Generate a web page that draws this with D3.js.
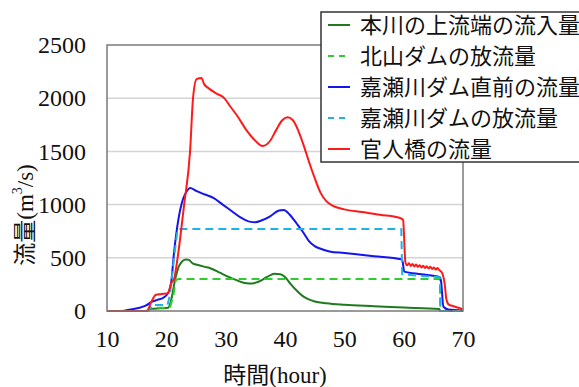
<!DOCTYPE html>
<html>
<head>
<meta charset="utf-8">
<script src="https://cdn.jsdelivr.net/npm/d3@7"></script>
<style>
  html, body { margin: 0; padding: 0; background: #fff; }
  svg text { font-family: "Liberation Serif", "Noto Sans CJK JP", serif; fill: #111; }
</style>
</head>
<body>
<div id="chart"></div>
<script>
// hours / flow (m3/s) per series
const greenHours = [10, 16.5, 17.5, 19, 20.3, 20.8, 21.5, 22.2, 23.3, 23.8, 24.5, 25.5, 26.5, 27.5, 29, 30.5, 32, 33.5, 34.5, 35.5, 37, 38.2, 39.2, 40, 41, 42, 43, 44, 45, 47, 50, 55, 60, 66, 66.2, 70];
const greenFlow  = [0, 0, 20, 25, 30, 100, 300, 430, 485, 480, 445, 430, 415, 400, 360, 320, 285, 260, 258, 275, 320, 350, 345, 320, 250, 190, 140, 110, 90, 72, 58, 45, 33, 18, 0, 0];

const kitayamaHours = [10, 17, 17.3, 20.6, 21.2, 21.6, 22, 66.1, 66.2, 70];
const kitayamaFlow  = [0, 0, 30, 30, 150, 290, 300, 300, 0, 0];

const blueHours = [10, 12.5, 14, 15.5, 16.5, 17.5, 18.5, 19.5, 20.3, 20.8, 21.3, 22, 22.8, 23.5, 24, 25, 26, 27, 28, 29.5, 31, 32.5, 34, 35, 36, 37.5, 39, 39.8, 40.8, 42, 43, 44, 45, 46, 47.5, 50, 55, 59.6, 59.8, 60.1, 63, 66.1, 66.3, 66.7, 67.5, 70];
const blueFlow  = [0, 0, 15, 30, 50, 85, 105, 125, 170, 260, 550, 850, 1050, 1130, 1155, 1130, 1105, 1085, 1060, 1000, 940, 880, 840, 835, 850, 890, 945, 950, 905, 820, 745, 660, 610, 585, 560, 545, 515, 486, 470, 370, 345, 317, 280, 40, 15, 5];

const kaseHours = [10, 17, 17.4, 20.2, 20.6, 21.3, 21.9, 59.6, 59.75, 66.1, 66.2, 70];
const kaseFlow  = [0, 0, 56, 56, 150, 500, 770, 770, 345, 317, 0, 0];

const redHours = [10, 16.7, 17.5, 18.2, 19, 20.3, 20.8, 21.3, 21.9, 23, 24, 24.5, 25.1, 25.9, 26.4, 27.2, 28.4, 29.8, 30.6, 32, 33.5, 35, 36.2, 37.5, 38.5, 39.5, 40.4, 41.3, 42.2, 43, 44, 45, 46, 47, 48, 50, 53, 56, 59.6, 59.9, 60.3,
  60.6, 60.9, 61.2, 61.5, 61.8, 62.1, 62.4, 62.7, 63, 63.3, 63.6, 63.9, 64.2, 64.5, 64.8, 65.1, 65.4, 65.7, 66, 66.3, 66.6, 66.9, 67.2, 67.6, 68.4, 70];
const redFlow  = [0, 0, 90, 150, 158, 166, 260, 300, 500, 1000, 1500, 2000, 2180, 2190, 2130, 2090, 2046, 1999, 1936, 1830, 1700, 1600, 1550, 1600, 1700, 1790, 1820, 1795, 1700, 1580, 1410, 1250, 1110, 1030, 990, 955, 930, 905, 870, 855, 455,
  430, 448, 424, 441, 419, 436, 414, 431, 409, 426, 404, 421, 399, 416, 394, 410, 389, 404, 384, 372, 340, 260, 110, 60, 45, 16];

const xTicks = [10, 20, 30, 40, 50, 60, 70];
const yTicks = [0, 500, 1000, 1500, 2000, 2500];

const series = [
  { name: "本川の上流端の流入量", hours: greenHours, flow: greenFlow, color: "#1f7a1f", dash: null, smooth: true },
  { name: "北山ダムの放流量", hours: kitayamaHours, flow: kitayamaFlow, color: "#2ecc2e", dash: "8,5", smooth: false },
  { name: "嘉瀬川ダム直前の流量", hours: blueHours, flow: blueFlow, color: "#1414ee", dash: null, smooth: true },
  { name: "嘉瀬川ダムの放流量", hours: kaseHours, flow: kaseFlow, color: "#1fb0e6", dash: "8,5", smooth: false },
  { name: "官人橋の流量", hours: redHours, flow: redFlow, color: "#ff1a1a", dash: null, smooth: true }
];

const width = 579, height = 387;
const margin = { top: 45, right: 116, bottom: 76, left: 107 };
const innerW = width - margin.left - margin.right;
const innerH = height - margin.top - margin.bottom;

const svg = d3.select("#chart").append("svg")
  .attr("width", width)
  .attr("height", height);

const g = svg.append("g").attr("transform", `translate(${margin.left},${margin.top})`);

const x = d3.scaleLinear().domain([10, 70]).range([0, innerW]);
const y = d3.scaleLinear().domain([0, 2500]).range([innerH, 0]);

// grid
g.selectAll(".grid")
  .data(yTicks.filter(v => v > 0 && v < 2500))
  .enter()
  .append("line")
  .attr("x1", 0).attr("x2", innerW)
  .attr("y1", d => y(d)).attr("y2", d => y(d))
  .attr("stroke", "#d4d4d4")
  .attr("stroke-width", 1.5);

// axes, labels only
const yAxis = g.append("g")
  .call(d3.axisLeft(y).tickValues(yTicks).tickFormat(d3.format("d")).tickSize(0).tickPadding(21));
const xAxis = g.append("g")
  .attr("transform", `translate(0,${innerH})`)
  .call(d3.axisBottom(x).tickValues(xTicks).tickFormat(d3.format("d")).tickSize(0).tickPadding(19));
[yAxis, xAxis].forEach(a => {
  a.attr("font-family", "Liberation Serif").attr("font-size", 24);
  a.select(".domain").remove();
  a.selectAll("text")
    .style("font-family", "Liberation Serif")
    .style("font-size", "24px")
    .attr("fill", "#111");
});

// lines
for (const s of series) {
  const pts = s.hours.map((h, i) => [h, s.flow[i]]);
  const line = d3.line()
    .x(d => x(d[0]))
    .y(d => y(d[1]))
    .curve(s.smooth ? d3.curveMonotoneX : d3.curveLinear);
  g.append("path")
    .datum(pts)
    .attr("fill", "none")
    .attr("stroke", s.color)
    .attr("stroke-width", 2)
    .attr("stroke-dasharray", s.dash)
    .attr("stroke-linejoin", "round")
    .attr("d", line);
}

// frame
g.append("rect")
  .attr("width", innerW).attr("height", innerH)
  .attr("fill", "none")
  .attr("stroke", "#7a7a7a")
  .attr("stroke-width", 1.5);

// axis titles
svg.append("text")
  .attr("x", margin.left + innerW / 2 - 10)
  .attr("y", 375)
  .attr("text-anchor", "middle")
  .attr("dominant-baseline", "central")
  .style("font-size", "23px")
  .text("時間(hour)");

const yt = svg.append("text")
  .attr("transform", "translate(25,215) rotate(-90)")
  .attr("text-anchor", "middle")
  .attr("dominant-baseline", "central")
  .style("font-size", "23px");
yt.append("tspan").text("流量(m");
yt.append("tspan").attr("dy", -8).style("font-size", "14px").text("3");
yt.append("tspan").attr("dy", 8).text("/s)");

// legend
const lg = svg.append("g");
lg.append("rect")
  .attr("x", 321).attr("y", 12)
  .attr("width", 300).attr("height", 150)
  .attr("fill", "#fff")
  .attr("stroke", "#333")
  .attr("stroke-width", 1.5);

series.forEach((s, i) => {
  const cy = 25 + i * 31;
  lg.append("line")
    .attr("x1", 328).attr("x2", 350)
    .attr("y1", cy).attr("y2", cy)
    .attr("stroke", s.color)
    .attr("stroke-width", 2)
    .attr("stroke-dasharray", s.dash ? "6,5" : null);
  lg.append("text")
    .attr("x", 360).attr("y", cy)
    .attr("dominant-baseline", "central")
    .style("font-size", "22px")
    .text(s.name);
});
</script>
</body>
</html>
